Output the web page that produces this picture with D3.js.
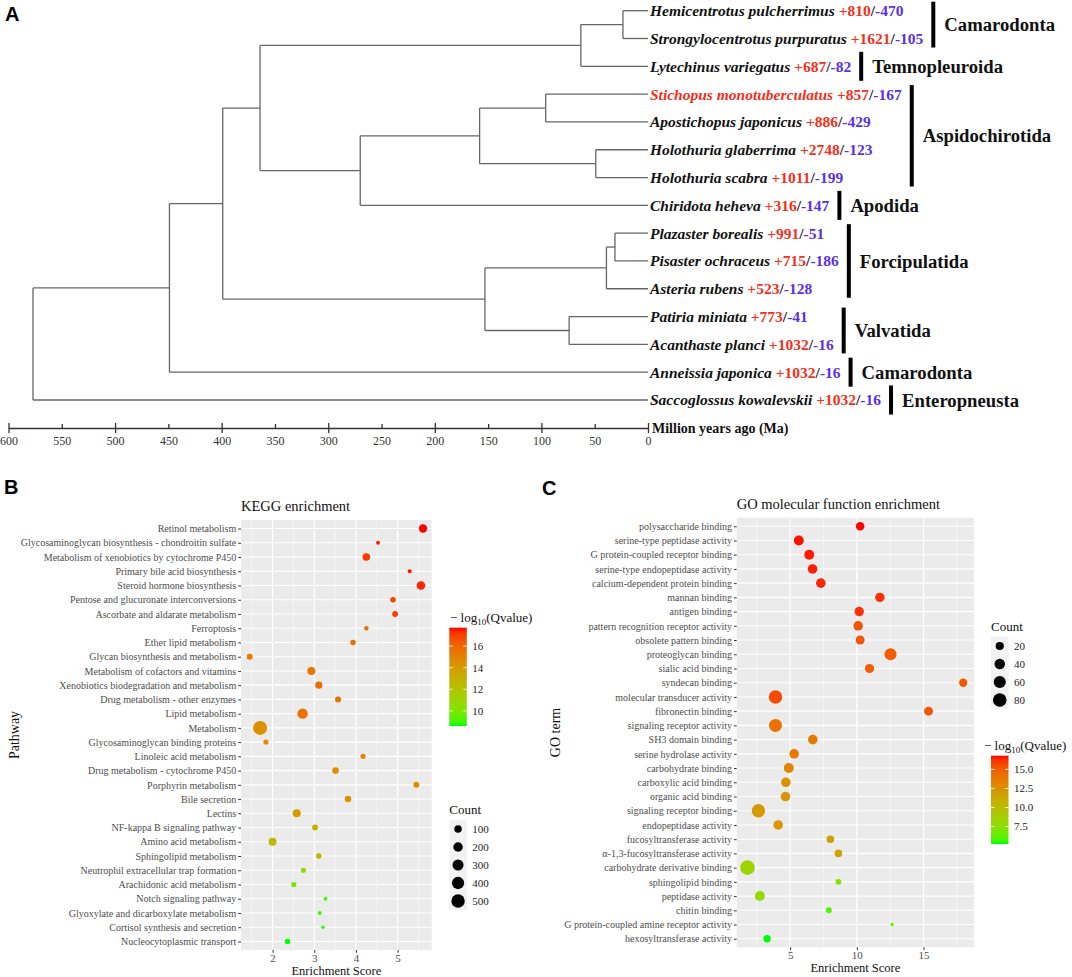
<!DOCTYPE html>
<html>
<head>
<meta charset="utf-8">
<script src="https://cdn.jsdelivr.net/npm/d3@7"></script>
<style>
  body { margin: 0; background: #fff; }
  svg text { font-family: "Liberation Serif", "Times New Roman", serif; }
  .tag { font-family: "Liberation Sans", Arial, sans-serif; font-weight: bold; font-size: 20px; }
</style>
</head>
<body>
<svg id="fig" width="1072" height="977"></svg>
<script>
// ---- panel A: species tree ----
const species = [
  "Hemicentrotus pulcherrimus", "Strongylocentrotus purpuratus", "Lytechinus variegatus",
  "Stichopus monotuberculatus", "Apostichopus japonicus", "Holothuria glaberrima",
  "Holothuria scabra", "Chiridota heheva", "Plazaster borealis", "Pisaster ochraceus",
  "Asteria rubens", "Patiria miniata", "Acanthaste planci", "Anneissia japonica",
  "Saccoglossus kowalevskii"
];
const gains = [810, 1621, 687, 857, 886, 2748, 1011, 316, 991, 715, 523, 773, 1032, 1032, 1032];
const losses = [470, 105, 82, 167, 429, 123, 199, 147, 51, 186, 128, 41, 16, 16, 16];
const highlight = "Stichopus monotuberculatus";
// nested [age (Ma), child, child]; numbers are leaf indices
const tree = [577, [449, [399, [364, [63, [23.5, 0, 1], 2], [270, [158, [96, 3, 4], [49, 5, 6]], 7]],
  [153, [39, [31, 8, 9], 10], [74, 11, 12]]], 13], 14];
const clades = [
  ["Camarodonta", 0, 1], ["Temnopleuroida", 2, 2], ["Aspidochirotida", 3, 6], ["Apodida", 7, 7],
  ["Forcipulatida", 8, 10], ["Valvatida", 11, 12], ["Camarodonta", 13, 13], ["Enteropneusta", 14, 14]
];
const ageTicks = [0, 50, 100, 150, 200, 250, 300, 350, 400, 450, 500, 550, 600];

// ---- panel B: KEGG ----
const keggPathways = [
  "Retinol metabolism", "Glycosaminoglycan biosynthesis - chondroitin sulfate",
  "Metabolism of xenobiotics by cytochrome P450", "Primary bile acid biosynthesis",
  "Steroid hormone biosynthesis", "Pentose and glucuronate interconversions",
  "Ascorbate and aldarate metabolism", "Ferroptosis", "Ether lipid metabolism",
  "Glycan biosynthesis and metabolism", "Metabolism of cofactors and vitamins",
  "Xenobiotics biodegradation and metabolism", "Drug metabolism - other enzymes",
  "Lipid metabolism", "Metabolism", "Glycosaminoglycan binding proteins",
  "Linoleic acid metabolism", "Drug metabolism - cytochrome P450", "Porphyrin metabolism",
  "Bile secretion", "Lectins", "NF-kappa B signaling pathway", "Amino acid metabolism",
  "Sphingolipid metabolism", "Neutrophil extracellular trap formation",
  "Arachidonic acid metabolism", "Notch signaling pathway",
  "Glyoxylate and dicarboxylate metabolism", "Cortisol synthesis and secretion",
  "Nucleocytoplasmic transport"
];
const keggScore = [5.61, 4.53, 4.25, 5.29, 5.56, 4.89, 4.94, 4.25, 3.93, 1.45, 2.93, 3.11, 3.57, 2.72, 1.70,
  1.84, 4.17, 3.51, 5.45, 3.81, 2.58, 3.02, 2.00, 3.11, 2.74, 2.51, 3.27, 3.13, 3.21, 2.36];
const keggCount = [140, 22, 105, 22, 150, 43, 48, 25, 43, 52, 122, 89, 52, 255, 560,
  36, 36, 69, 52, 69, 122, 52, 122, 43, 36, 36, 21, 22, 20, 43];
const keggQ = [17.7, 17.5, 17.2, 17.6, 17.4, 17.0, 17.1, 15.6, 15.6, 15.4, 15.5, 15.8, 15.6, 15.6, 14.4,
  14.6, 14.7, 14.5, 14.5, 14.3, 13.9, 12.8, 12.5, 12.4, 10.5, 10.0, 9.0, 8.9, 8.8, 8.6];
const keggTicks = [2, 3, 4, 5];
const keggCountBreaks = [100, 200, 300, 400, 500];
const keggColorBreaks = [10, 12, 14, 16];

// ---- panel C: GO ----
const goTerms = [
  "polysaccharide binding", "serine-type peptidase activity", "G protein-coupled receptor binding",
  "serine-type endopeptidase activity", "calcium-dependent protein binding", "mannan binding",
  "antigen binding", "pattern recognition receptor activity", "obsolete pattern binding",
  "proteoglycan binding", "sialic acid binding", "syndecan binding", "molecular transducer activity",
  "fibronectin binding", "signaling receptor activity", "SH3 domain binding",
  "serine hydrolase activity", "carbohydrate binding", "carboxylic acid binding",
  "organic acid binding", "signaling receptor binding", "endopeptidase activity",
  "fucosyltransferase activity", "\u03b1-1,3-fucosyltransferase activity",
  "carbohydrate derivative binding", "sphingolipid binding", "peptidase activity",
  "chitin binding", "G protein-coupled amine receptor activity", "hexosyltransferase activity"
];
const goScore = [10.25, 5.65, 6.43, 6.68, 7.3, 11.73, 10.18, 10.1, 10.25, 12.53, 10.95, 17.98, 3.9, 15.38, 3.9,
  6.7, 5.3, 4.9, 4.68, 4.65, 2.62, 4.1, 8.02, 8.62, 1.8, 8.62, 2.73, 7.9, 12.65, 3.27];
const goCount = [23, 35, 35, 31, 31, 30, 30, 30, 26, 58, 28, 21, 77, 26, 71,
  31, 31, 35, 31, 31, 77, 31, 16, 16, 96, 7, 35, 8, 3, 15];
const goQ = [16.8, 16.7, 16.6, 16.6, 16.5, 16.3, 16.3, 15.4, 15.3, 15.0, 15.0, 15.2, 15.6, 15.2, 14.2,
  13.8, 13.8, 13.2, 12.5, 12.5, 12.1, 12.3, 11.8, 11.6, 8.4, 7.3, 7.9, 6.0, 6.3, 5.2];
const goTicks = [5, 10, 15];
const goCountBreaks = [20, 40, 60, 80];
const goColorBreaks = [7.5, 10.0, 12.5, 15.0];

const svg = d3.select("#fig");
const RED = "#f2301c", BLUE = "#5a30e6";

// ================= panel A =================
svg.append("text").attr("class", "tag").attr("x", 5).attr("y", 21).text("A");

const xAge = d3.scaleLinear().domain([600, 0]).range([8.5, 648]);
const yLeaf = d3.scalePoint().domain(d3.range(species.length)).range([10.7, 400]);

const root = d3.hierarchy(tree, d => (Array.isArray(d) ? d.slice(1) : null));
root.eachAfter(n => {
  if (n.children) {
    n.px = xAge(n.data[0]);
    n.py = d3.mean(n.children, c => c.py);
  } else {
    n.px = xAge(0);
    n.py = yLeaf(n.data);
  }
});

const branches = svg.append("g").attr("stroke", "#666").attr("stroke-width", 1.3);
root.descendants().filter(n => n.children).forEach(n => {
  const ys = n.children.map(c => c.py);
  branches.append("line").attr("x1", n.px).attr("x2", n.px).attr("y1", d3.min(ys)).attr("y2", d3.max(ys));
  n.children.forEach(c => {
    branches.append("line").attr("x1", n.px).attr("x2", c.px).attr("y1", c.py).attr("y2", c.py);
  });
});

const labelEnds = [];
species.forEach((name, i) => {
  const t = svg.append("text")
    .attr("x", xAge(0) + 2).attr("y", yLeaf(i)).attr("dy", "0.35em")
    .attr("font-size", 15.5).attr("font-weight", "bold");
  t.append("tspan").attr("font-style", "italic").attr("fill", name === highlight ? RED : "#111").text(name);
  t.append("tspan").attr("fill", RED).text(" +" + gains[i]);
  t.append("tspan").attr("fill", "#222").text("/");
  t.append("tspan").attr("fill", BLUE).text("-" + losses[i]);
  labelEnds[i] = xAge(0) + 2 + t.node().getComputedTextLength();
});

clades.forEach(([name, a, b]) => {
  const bx = d3.max(d3.range(a, b + 1), i => labelEnds[i]) + 10;
  const pad = a === b ? 14.5 : 9;
  const y0 = yLeaf(a) - pad, y1 = yLeaf(b) + pad;
  svg.append("rect").attr("x", bx - 2).attr("y", y0).attr("width", 4).attr("height", y1 - y0).attr("fill", "#000");
  svg.append("text").attr("x", bx + 11).attr("y", (y0 + y1) / 2).attr("dy", "0.35em")
    .attr("font-size", 18.7).attr("font-weight", "bold").attr("fill", "#111").text(name);
});

const ageAxis = svg.append("g").attr("transform", "translate(0,428)")
  .call(d3.axisBottom(xAge).tickValues(ageTicks).tickSize(0).tickPadding(8));
ageAxis.attr("font-family", null).attr("font-size", null);
ageAxis.select(".domain").attr("stroke", "#333").attr("stroke-width", 1.5);
ageAxis.selectAll(".tick line").attr("stroke", "#333").attr("stroke-width", 1.3)
  .attr("y1", d => (d % 100 === 0 ? -5 : -4)).attr("y2", d => (d % 100 === 0 ? 5 : 0));
ageAxis.selectAll(".tick text").attr("font-size", 12).attr("fill", "#333");
svg.append("text").attr("x", xAge(0) + 4).attr("y", 428).attr("dy", "0.35em")
  .attr("font-size", 14).attr("font-weight", "bold").attr("fill", "#111").text("Million years ago (Ma)");

// ================= dot plots =================
function expand([a, b]) {
  const d = (b - a) * 0.05;
  return [a - d, b + d];
}

function dotPlot(o) {
  const g = svg.append("g");
  const x = d3.scaleLinear().domain(expand(d3.extent(o.score))).range([o.left, o.right]);
  const y = d3.scalePoint().domain(o.terms).range([o.top, o.bottom]).padding(0.6);
  const color = d3.scaleLinear().domain(d3.extent(o.q)).range(["#00ff00", "#ff0000"]).interpolate(d3.interpolateLab);
  const tNorm = d3.scaleLinear().domain(d3.extent(o.count)).range([0, 1]);
  const rad = d3.scaleSqrt().domain([0, 1]).range(o.rRange);
  const r = c => rad(Math.max(0, tNorm(c)));

  g.append("rect").attr("x", o.left).attr("y", o.top)
    .attr("width", o.right - o.left).attr("height", o.bottom - o.top).attr("fill", "#ebebeb");
  const [d0, d1] = x.domain();
  const minor = o.ticks.map(t => t - o.step / 2).concat([o.ticks[o.ticks.length - 1] + o.step / 2])
    .filter(v => v > d0 && v < d1);
  g.selectAll(".minor").data(minor).join("line")
    .attr("x1", d => x(d)).attr("x2", d => x(d)).attr("y1", o.top).attr("y2", o.bottom)
    .attr("stroke", "#fff").attr("stroke-width", 0.5);
  g.selectAll(".vmaj").data(o.ticks).join("line")
    .attr("x1", d => x(d)).attr("x2", d => x(d)).attr("y1", o.top).attr("y2", o.bottom)
    .attr("stroke", "#fff").attr("stroke-width", 1.1);
  g.selectAll(".hmaj").data(o.terms).join("line")
    .attr("x1", o.left).attr("x2", o.right).attr("y1", d => y(d)).attr("y2", d => y(d))
    .attr("stroke", "#fff").attr("stroke-width", 1.1);

  g.selectAll(".dot").data(o.terms).join("circle")
    .attr("cx", (d, i) => x(o.score[i])).attr("cy", d => y(d))
    .attr("r", (d, i) => r(o.count[i])).attr("fill", (d, i) => color(o.q[i]));

  const yAx = g.append("g").attr("transform", `translate(${o.left},0)`)
    .call(d3.axisLeft(y).tickSize(2.75).tickPadding(2));
  yAx.attr("font-family", null).attr("font-size", null);
  yAx.select(".domain").remove();
  yAx.selectAll(".tick line").attr("stroke", "#333");
  yAx.selectAll(".tick text").attr("font-size", 10).attr("fill", "#4d4d4d");

  const xAx = g.append("g").attr("transform", `translate(0,${o.bottom})`)
    .call(d3.axisBottom(x).tickValues(o.ticks).tickFormat(d3.format("d")).tickSize(2.75).tickPadding(1));
  xAx.attr("font-family", null).attr("font-size", null);
  xAx.select(".domain").remove();
  xAx.selectAll(".tick line").attr("stroke", "#333");
  xAx.selectAll(".tick text").attr("font-size", 11).attr("fill", "#4d4d4d");

  g.append("text").attr("x", o.left).attr("y", o.top - 9).attr("font-size", 14.5).attr("fill", "#111").text(o.title);
  g.append("text").attr("x", (o.left + o.right) / 2).attr("y", o.bottom + 24.5).attr("text-anchor", "middle")
    .attr("font-size", 12.5).attr("fill", "#111").text("Enrichment Score");
  g.append("text").attr("transform", `translate(${o.yTitleX},${(o.top + o.bottom) / 2}) rotate(-90)`)
    .attr("text-anchor", "middle").attr("dy", "0.35em").attr("font-size", 14).attr("fill", "#111").text(o.yTitle);

  // colour bar
  const cb = o.colorBar;
  const [q0, q1] = color.domain();
  const grad = svg.append("defs").append("linearGradient").attr("id", o.id)
    .attr("x1", 0).attr("x2", 0).attr("y1", 1).attr("y2", 0);
  d3.range(0, 1.0001, 0.05).forEach(t => grad.append("stop").attr("offset", t).attr("stop-color", color(q0 + t * (q1 - q0))));
  const ttl = g.append("text").attr("x", cb.titleX).attr("y", cb.top - 6).attr("font-size", 13).attr("fill", "#111");
  ttl.append("tspan").text("\u2212 log");
  ttl.append("tspan").attr("font-size", 9).attr("dy", 3).text("10");
  ttl.append("tspan").attr("dy", -3).text("(Qvalue)");
  g.append("rect").attr("x", cb.x).attr("y", cb.top).attr("width", 17.5).attr("height", cb.bottom - cb.top)
    .attr("fill", `url(#${o.id})`);
  const cy = d3.scaleLinear().domain([q0, q1]).range([cb.bottom, cb.top]);
  o.colorBreaks.forEach(v => {
    g.append("line").attr("x1", cb.x).attr("x2", cb.x + 3.5).attr("y1", cy(v)).attr("y2", cy(v)).attr("stroke", "#fff").attr("stroke-width", 0.8);
    g.append("line").attr("x1", cb.x + 14).attr("x2", cb.x + 17.5).attr("y1", cy(v)).attr("y2", cy(v)).attr("stroke", "#fff").attr("stroke-width", 0.8);
    g.append("text").attr("x", cb.x + 23).attr("y", cy(v)).attr("dy", "0.35em").attr("font-size", 11)
      .attr("fill", "#222").text(o.colorFmt(v));
  });

  // size legend
  const sl = o.sizeLegend;
  g.append("text").attr("x", sl.x).attr("y", sl.top - 6).attr("font-size", 13).attr("fill", "#111").text("Count");
  let yy = sl.top;
  o.countBreaks.forEach(c => {
    const h = Math.max(18, 2 * r(c) + 4);
    g.append("rect").attr("x", sl.x).attr("y", yy).attr("width", 17.5).attr("height", h).attr("fill", "#f2f2f2");
    g.append("circle").attr("cx", sl.x + 8.75).attr("cy", yy + h / 2).attr("r", r(c)).attr("fill", "#000");
    g.append("text").attr("x", sl.x + 23).attr("y", yy + h / 2).attr("dy", "0.35em").attr("font-size", 11)
      .attr("fill", "#222").text(c);
    yy += h;
  });
}

svg.append("text").attr("class", "tag").attr("x", 4).attr("y", 494).text("B");
svg.append("text").attr("class", "tag").attr("x", 542).attr("y", 495).text("C");

dotPlot({
  id: "keggGrad", title: "KEGG enrichment", yTitle: "Pathway", yTitleX: 14,
  terms: keggPathways, score: keggScore, count: keggCount, q: keggQ,
  ticks: keggTicks, step: 1, countBreaks: keggCountBreaks, colorBreaks: keggColorBreaks,
  colorFmt: v => String(v), rRange: [1.7, 7],
  left: 241, right: 431.7, top: 520, bottom: 950,
  colorBar: { x: 449.3, top: 627.7, bottom: 726, titleX: 450 },
  sizeLegend: { x: 449.3, top: 820 }
});

dotPlot({
  id: "goGrad", title: "GO molecular function enrichment", yTitle: "GO term", yTitleX: 555,
  terms: goTerms, score: goScore, count: goCount, q: goQ,
  ticks: goTicks, step: 5, countBreaks: goCountBreaks, colorBreaks: goColorBreaks,
  colorFmt: v => v.toFixed(1), rRange: [1.7, 7.3],
  left: 736.7, right: 974, top: 517.7, bottom: 947.3,
  colorBar: { x: 991, top: 755.7, bottom: 844, titleX: 984 },
  sizeLegend: { x: 991, top: 637 }
});
</script>
</body>
</html>
